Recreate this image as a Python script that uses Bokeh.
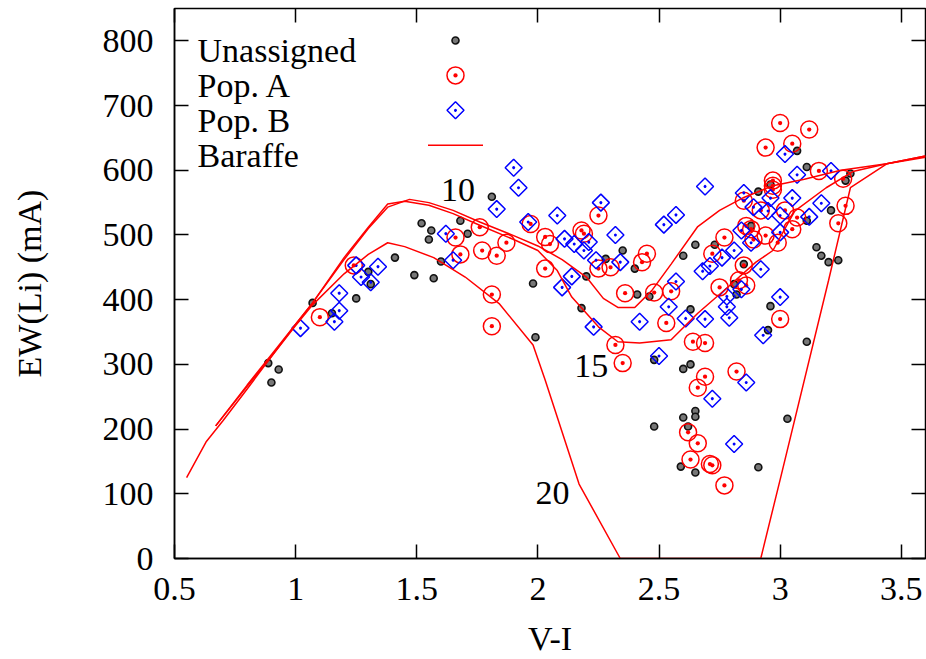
import numpy as np
from bokeh.plotting import figure
from bokeh.models import Range1d, LinearAxis, FixedTicker, Label
from bokeh.embed import file_html
from bokeh.resources import INLINE

# ---------------- data ----------------
unassigned_x = [0.887, 0.93, 0.90, 1.07, 1.15, 1.25, 1.30, 1.31, 1.41, 1.49, 1.57, 1.52, 1.56, 1.55,
                1.60, 1.81, 1.68, 1.71, 1.98, 2.18, 1.99, 2.20, 2.28, 2.35, 2.40, 2.41, 2.46, 3.07,
                3.11, 3.27, 3.29, 2.60, 2.65, 2.73, 2.91, 2.88, 2.85, 3.15, 3.17, 3.20, 3.24, 3.21,
                3.11, 2.81, 2.82, 2.96, 2.63, 2.96, 2.95, 3.11, 2.48, 2.60, 2.63, 2.65, 2.65, 2.60,
                2.62, 2.48, 3.03, 2.59, 2.65, 2.91]
unassigned_y = [302, 292, 272, 395, 379, 402, 443, 424, 465, 438, 433, 518, 507, 493,
                459, 559, 522, 502, 425, 387, 342, 436, 463, 476, 448, 408, 405, 630,
                605, 584, 595, 468, 485, 485, 567, 514, 455, 481, 468, 458, 461, 538,
                522, 424, 408, 578, 385, 390, 353, 335, 307, 293, 300, 228, 219, 218,
                204, 204, 216, 142, 133, 141]

popA_x = [1.10, 1.24, 1.66, 1.68, 1.76, 1.77, 1.83, 1.87, 1.97, 2.03, 2.05, 2.03, 1.81, 1.81,
          2.18, 2.19, 2.25, 2.25, 2.30, 2.36, 2.43, 2.45, 2.32, 2.35, 2.48, 2.55, 3.00, 3.12,
          2.94, 3.05, 3.16, 3.26, 2.97, 2.97, 2.97, 2.85, 2.92, 3.02, 3.07, 3.05, 2.94, 2.99,
          2.86, 2.88, 2.89, 2.77, 2.72, 2.85, 2.75, 2.83, 2.86, 3.27, 3.24, 2.53, 2.64, 2.69,
          3.00, 2.82, 2.69, 2.66, 2.62, 2.66, 2.63, 2.71, 2.72, 2.77]
popA_y = [373, 453, 496, 470, 512, 476, 468, 488, 517, 497, 486, 448, 408, 359,
          507, 502, 530, 448, 450, 410, 458, 471, 330, 302, 411, 413, 673, 663,
          635, 641, 599, 587, 584, 576, 570, 553, 538, 538, 527, 509, 499, 488,
          514, 509, 493, 496, 471, 453, 419, 430, 422, 545, 518, 364, 335, 333,
          370, 289, 281, 264, 195, 178, 153, 146, 144, 113]

popB_x = [1.02, 1.16, 1.18, 1.18, 1.25, 1.27, 1.31, 1.34, 1.62, 1.65, 1.90, 1.92, 1.83, 1.96,
          2.08, 2.26, 2.32, 2.11, 2.15, 2.21, 2.19, 2.24, 2.34, 2.14, 2.10, 2.23, 2.42, 2.69,
          2.52, 2.57, 2.57, 2.85, 3.02, 3.07, 3.21, 3.05, 2.96, 2.89, 2.95, 3.00, 3.17, 3.12,
          3.00, 2.84, 2.88, 2.81, 2.76, 2.71, 2.68, 2.92, 2.78, 2.84, 3.00, 2.54, 2.61, 2.69,
          2.78, 2.79, 2.93, 2.50, 2.86, 2.72, 2.81]
popB_y = [356, 366, 383, 410, 453, 435, 427, 451, 502, 461, 604, 573, 540, 520,
          530, 550, 500, 494, 486, 489, 476, 461, 458, 436, 419, 358, 366, 575,
          516, 531, 428, 565, 625, 593, 599, 557, 557, 543, 537, 530, 549, 528,
          504, 507, 488, 476, 465, 452, 444, 447, 405, 416, 404, 389, 371, 370,
          389, 372, 345, 313, 272, 247, 177]

baraffe10_x = [0.55, 0.63, 0.70, 0.80, 0.90, 1.00, 1.07, 1.20, 1.30, 1.38, 1.47, 1.55, 1.65, 1.76,
               1.90, 2.00, 2.10, 2.20, 2.27, 2.33, 2.40, 2.47, 2.55, 2.66, 2.75, 2.85, 2.97, 3.10,
               3.25, 3.44, 3.60]
baraffe10_y = [125, 180, 213, 262, 312, 362, 395, 462, 510, 543, 555, 550, 538, 520,
               499, 483, 462, 435, 402, 388, 388, 414, 455, 513, 538, 558, 576, 586,
               600, 610, 622]

baraffe15_x = [0.67, 0.80, 0.90, 1.00, 1.07, 1.20, 1.30, 1.38, 1.45, 1.55, 1.65, 1.76, 1.90, 2.00,
               2.08, 2.14, 2.25, 2.33, 2.42, 2.55, 2.66, 2.78, 2.90, 2.97, 3.06, 3.19, 3.30, 3.44,
               3.60]
baraffe15_y = [205, 268, 315, 362, 395, 465, 512, 548, 552, 546, 533, 515, 493, 476,
               445, 404, 358, 335, 333, 338, 379, 418, 458, 476, 537, 573, 598, 610,
               622]

baraffe20_x = [0.67, 0.80, 0.90, 1.00, 1.07, 1.20, 1.30, 1.38, 1.45, 1.57, 1.70, 1.84, 1.98, 2.03,
               2.17, 2.34, 2.92, 3.00, 3.20, 3.29, 3.44, 3.60]
baraffe20_y = [205, 266, 312, 360, 392, 440, 470, 488, 482, 465, 435, 394, 330, 276,
               115, 0, 0, 122, 430, 573, 610, 620]

curve_names = ["10", "15", "20"]
curve_label_x = [1.67, 2.22, 2.06]
curve_label_y = [569, 298, 102]

x_ticks = [0.5, 1, 1.5, 2, 2.5, 3, 3.5]
x_tick_labels = ["0.5", "1", "1.5", "2", "2.5", "3", "3.5"]
y_ticks = [0, 100, 200, 300, 400, 500, 600, 700, 800]
y_tick_labels = ["0", "100", "200", "300", "400", "500", "600", "700", "800"]

legend_labels = ["Unassigned", "Pop. A", "Pop. B", "Baraffe"]

# ---------------- style / layout ----------------
FONT = "Liberation Serif"
FS = "34px"
RED = "#ff0000"
BLUE = "#0000ff"
X0, X1, Y0, Y1 = 0.5, 3.6, 0, 850
W, H = 926, 659
BL, BR, BT = 174, 1, 8
FRAME_W = W - BL - BR
FRAME_H = 551

p = figure(width=W, height=H, output_backend="svg", toolbar_location=None,
           x_range=Range1d(X0, X1), y_range=Range1d(Y0, Y1),
           min_border_left=BL, min_border_right=BR, min_border_top=BT, min_border_bottom=10)
p.background_fill_color = "white"
p.border_fill_color = "white"
p.outline_line_color = "black"
p.outline_line_width = 1.5
p.xgrid.visible = False
p.ygrid.visible = False

p.xaxis.ticker = FixedTicker(ticks=x_ticks)
p.yaxis.ticker = FixedTicker(ticks=y_ticks)
p.xaxis.major_label_overrides = dict(zip(x_ticks, x_tick_labels))
p.yaxis.major_label_overrides = dict(zip(y_ticks, y_tick_labels))
p.xaxis.axis_label = "V-I"
p.yaxis.axis_label = "EW(Li) (mA)"

for ax in (p.xaxis[0], p.yaxis[0]):
    ax.major_tick_in = 14
    ax.major_tick_out = 0
    ax.minor_tick_line_color = None
    ax.major_tick_line_width = 1.5
    ax.axis_line_width = 1.5
    ax.major_label_text_font = FONT
    ax.major_label_text_font_size = FS
    ax.major_label_text_color = "black"
    ax.axis_label_text_font = FONT
    ax.axis_label_text_font_size = FS
    ax.axis_label_text_font_style = "normal"
    ax.axis_label_text_color = "black"
p.xaxis.major_label_standoff = 19
p.xaxis.axis_label_standoff = 17
p.yaxis.major_label_standoff = 21
p.yaxis.axis_label_standoff = 52

# mirrored ticks (top, right) without labels
for side, tk in (("above", x_ticks), ("right", y_ticks)):
    ax = LinearAxis(ticker=FixedTicker(ticks=tk))
    ax.major_tick_in = 14
    ax.major_tick_out = 0
    ax.minor_tick_line_color = None
    ax.major_tick_line_width = 1.5
    ax.axis_line_color = None
    ax.major_label_text_font_size = "1px"
    ax.major_label_text_color = None
    ax.major_label_standoff = 0
    p.add_layout(ax, side)

# ---------------- glyphs ----------------
UN_STYLE = dict(marker="circle", size=7, fill_color="#777777", line_color="#111111", line_width=1.6)
A_STYLE = dict(marker="circle_dot", size=17, fill_color=None, line_color=RED, line_width=1.5)
B_STYLE = dict(marker="square_dot", size=12, angle=np.pi / 4, fill_color=None, line_color=BLUE,
               line_width=1.5)

p.scatter(unassigned_x, unassigned_y, **UN_STYLE)
p.scatter(popA_x, popA_y, **A_STYLE)
p.scatter(popB_x, popB_y, **B_STYLE)
for bx, by in ((baraffe10_x, baraffe10_y), (baraffe15_x, baraffe15_y), (baraffe20_x, baraffe20_y)):
    p.line(bx, by, line_color=RED, line_width=1.5)

for name, lx, ly in zip(curve_names, curve_label_x, curve_label_y):
    p.add_layout(Label(x=lx, y=ly, text=name, text_font=FONT, text_font_size=FS,
                       text_align="center", text_baseline="middle", text_color="black"))

# ---------------- key (text left, symbol right, gnuplot style) ----------------
ROW = 35
TEXT_X = 23            # px from frame left
FIRST_BASELINE = 43    # px from frame top
FIRST_CENTER = 32      # px from frame top
SYM_X = 281            # px from frame left
LINE_HALF = 27.5


def fx(px):
    return X0 + px / FRAME_W * (X1 - X0)


def fy(px_from_top):
    return Y1 - px_from_top / FRAME_H * (Y1 - Y0)


for i, lab in enumerate(legend_labels):
    p.add_layout(Label(x=TEXT_X, y=FRAME_H - FIRST_BASELINE - i * ROW, x_units="screen",
                       y_units="screen", text=lab, text_font=FONT, text_font_size=FS,
                       text_align="left", text_baseline="alphabetic", text_color="black"))

key_y = [fy(FIRST_CENTER + i * ROW) for i in range(4)]
p.scatter([fx(SYM_X)], [key_y[0]], **UN_STYLE)
p.scatter([fx(SYM_X)], [key_y[1]], **A_STYLE)
p.scatter([fx(SYM_X)], [key_y[2]], **B_STYLE)
p.line([fx(SYM_X - LINE_HALF), fx(SYM_X + LINE_HALF)], [key_y[3], key_y[3]],
       line_color=RED, line_width=1.5)

open("out.html", "w").write(file_html(p, INLINE))
